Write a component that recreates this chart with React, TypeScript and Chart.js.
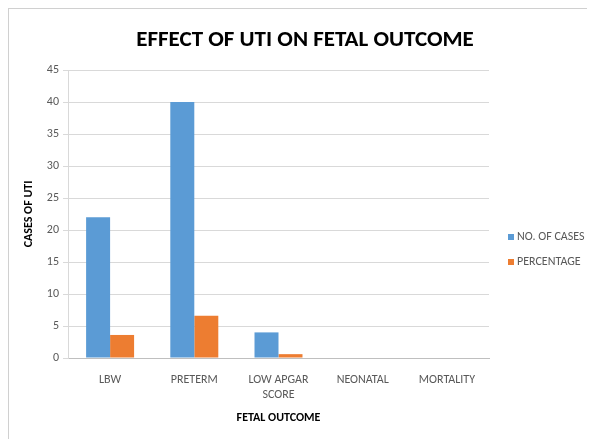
import React, { useEffect, useRef } from "react";
import { Chart, registerables } from "chart.js";

Chart.register(...registerables);

const chartTitle = "EFFECT OF UTI ON FETAL OUTCOME";
const categories: (string | string[])[] = ["LBW", "PRETERM", ["LOW APGAR", "SCORE"], "NEONATAL", "MORTALITY"];
const casesValues = [22, 40, 4, 0, 0];
const percentValues = [3.6, 6.6, 0.6, 0, 0];
const seriesNames = ["NO. OF CASES", "PERCENTAGE"];
const yTicks = [0, 5, 10, 15, 20, 25, 30, 35, 40, 45];

const FONT = "'Carlito', 'DejaVu Sans Condensed', 'Liberation Sans Narrow', sans-serif";

const decorPlugin = {
  id: "decor",
  afterDraw(chart: any) {
    const ctx = chart.ctx;
    const ds = chart.data.datasets;
    ctx.save();
    // title
    ctx.font = `bold 23px ${FONT}`;
    ctx.textAlign = "center";
    ctx.textBaseline = "middle";
    ctx.fillStyle = "#000000";
    ctx.fillText(chartTitle, 296, 31);
    // legend
    ctx.font = `12px ${FONT}`;
    ctx.textAlign = "left";
    ds.forEach((d: any, i: number) => {
      const y = 228 + i * 25;
      const x = 499;
      ctx.fillStyle = d.backgroundColor;
      ctx.fillRect(x, y - 3, 6, 6);
      ctx.fillStyle = "#595959";
      ctx.fillText(d.label, x + 9, y);
    });
    ctx.restore();
  },
};

export default function App() {
  const ref = useRef<HTMLCanvasElement | null>(null);
  useEffect(() => {
    if (!ref.current) return;
    const chart = new Chart(ref.current, {
      type: "bar",
      data: {
        labels: categories,
        datasets: [
          { label: seriesNames[0], data: casesValues, backgroundColor: "#5B9BD5", categoryPercentage: 0.57, barPercentage: 1 },
          { label: seriesNames[1], data: percentValues, backgroundColor: "#ED7D31", categoryPercentage: 0.57, barPercentage: 1 },
        ],
      },
      options: {
        animation: false,
        responsive: false,
        layout: { padding: { left: 8, right: 106, top: 61, bottom: 0 } },
        plugins: {
          legend: { display: false },
          tooltip: { enabled: false },
          title: { display: false },
        },
        scales: {
          x: {
            grid: { display: false, drawTicks: false },
            border: { display: true, color: "#bfbfbf" },
            ticks: { color: "#595959", font: { family: FONT, size: 12 }, padding: 15, maxRotation: 0, autoSkip: false },
            title: {
              display: true,
              text: "FETAL OUTCOME",
              color: "#000000",
              font: { family: FONT, size: 12, weight: "bold" },
              padding: { top: 4, bottom: 14 },
            },
            afterFit(scale: any) {
              scale.height = 81;
            },
          },
          y: {
            min: 0,
            max: 45,
            afterBuildTicks(scale: any) {
              scale.ticks = yTicks.map((v) => ({ value: v }));
            },
            grid: { color: "#d9d9d9", tickLength: 5, drawTicks: true },
            border: { display: true, color: "#d9d9d9" },
            ticks: { color: "#595959", font: { family: FONT, size: 12 }, padding: 4 },
            title: {
              display: true,
              text: "CASES OF UTI",
              color: "#000000",
              font: { family: FONT, size: 12, weight: "bold" },
              padding: { top: 5, bottom: 0 },
            },
            afterFit(scale: any) {
              scale.width = 51;
            },
          },
        },
      },
      plugins: [decorPlugin],
    });
    return () => chart.destroy();
  }, []);
  return (
    <div style={{ width: 587, height: 431, borderTop: "1px solid #d0d0d0", borderLeft: "1px solid #d0d0d0", boxSizing: "border-box", background: "#fff" }}>
      <canvas ref={ref} width={586} height={430} style={{ display: "block" }} />
    </div>
  );
}
